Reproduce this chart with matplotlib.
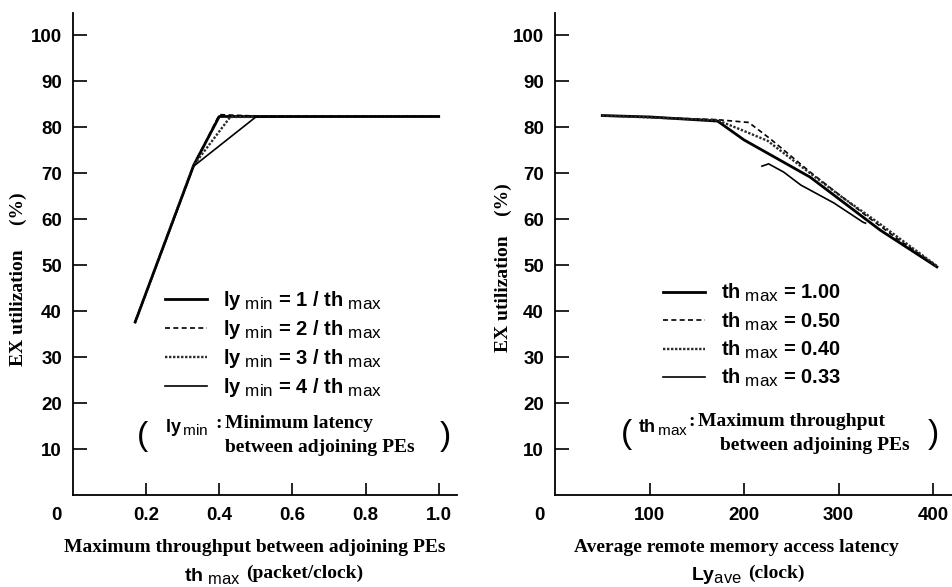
import matplotlib
matplotlib.use("Agg")
import matplotlib.pyplot as plt
import matplotlib._mathtext as _mt

# larger subscripts, as in the reference typesetting
_mt.SHRINK_FACTOR = 0.85

plt.rcParams['mathtext.fontset'] = 'custom'
plt.rcParams['mathtext.rm'] = 'Liberation Sans'
plt.rcParams['mathtext.bf'] = 'Liberation Sans:bold'
plt.rcParams['mathtext.it'] = 'Liberation Sans:italic'

# ---------------- data ----------------
# Left panel: EX utilization vs th_max
th_ly1 = [0.17, 0.33, 0.40, 1.00]
eu_ly1 = [37.6, 71.7, 82.3, 82.3]
th_ly2 = [0.17, 0.33, 0.40, 0.50, 1.00]
eu_ly2 = [37.6, 71.7, 82.7, 82.4, 82.4]
th_ly3 = [0.17, 0.33, 0.43, 1.00]
eu_ly3 = [37.6, 71.7, 82.2, 82.3]
th_ly4 = [0.17, 0.33, 0.50, 1.00]
eu_ly4 = [37.6, 71.5, 82.2, 82.3]
left_labels = [r"$\mathbf{ly}_{\ \mathrm{min}}$ = 1 / $\mathbf{th}_{\ \mathrm{max}}$",
               r"$\mathbf{ly}_{\ \mathrm{min}}$ = 2 / $\mathbf{th}_{\ \mathrm{max}}$",
               r"$\mathbf{ly}_{\ \mathrm{min}}$ = 3 / $\mathbf{th}_{\ \mathrm{max}}$",
               r"$\mathbf{ly}_{\ \mathrm{min}}$ = 4 / $\mathbf{th}_{\ \mathrm{max}}$"]

# Right panel: EX utilization vs Ly_ave
ly_th100 = [50, 100, 172, 200, 270, 344, 404]
eu_th100 = [82.5, 82.2, 81.3, 77.2, 69.1, 57.6, 49.6]
ly_th050 = [50, 172, 205, 228, 270, 330, 365, 404]
eu_th050 = [82.5, 81.6, 81.0, 77.4, 70.2, 60.6, 55.3, 49.8]
ly_th040 = [50, 172, 197, 225, 260, 300, 340, 404]
eu_th040 = [82.5, 81.5, 79.4, 77.0, 71.5, 65.3, 59.5, 49.8]
ly_th033 = [219, 226, 242, 260, 295, 326, 328.5]
eu_th033 = [71.5, 72.0, 70.2, 67.4, 63.5, 59.3, 59.1]
right_labels = [r"$\mathbf{th}_{\ \mathrm{max}}$ = 1.00",
                r"$\mathbf{th}_{\ \mathrm{max}}$ = 0.50",
                r"$\mathbf{th}_{\ \mathrm{max}}$ = 0.40",
                r"$\mathbf{th}_{\ \mathrm{max}}$ = 0.33"]

left_xticks = [0.2, 0.4, 0.6, 0.8, 1.0]
right_xticks = [100, 200, 300, 400]
yticks = [10, 20, 30, 40, 50, 60, 70, 80, 90, 100]

# ---------------- figure ----------------
W, H = 953, 587
fig = plt.figure(figsize=(W / 100, H / 100), dpi=100)

def fx(px):
    return px / W

def fy(py):
    return 1 - py / H

axL = fig.add_axes([fx(73), fy(495), fx(457) - fx(73), fy(13) - fy(495)])
axR = fig.add_axes([fx(555), fy(495), fx(952) - fx(555), fy(13) - fy(495)])

styles = [dict(color='black', lw=2.0, ls='-'),
          dict(color='black', lw=1.2, ls=(0, (3, 2))),
          dict(color='#2a2a2a', lw=1.7, ls=(0, (1, 0.7))),
          dict(color='black', lw=1.2, ls='-')]

left_series = [(th_ly1, eu_ly1), (th_ly2, eu_ly2), (th_ly3, eu_ly3), (th_ly4, eu_ly4)]
right_series = [(ly_th100, eu_th100), (ly_th050, eu_th050), (ly_th040, eu_th040), (ly_th033, eu_th033)]

for (x, y), st, lab in zip(left_series, styles, left_labels):
    axL.plot(x, y, label=lab, **st)
for (x, y), st, lab in zip(right_series, styles, right_labels):
    axR.plot(x, y, label=lab, **st)

tickfont = dict(family='Liberation Sans', weight='bold', size=13.5)
for ax, xt, xl in [(axL, left_xticks, (0, 1.05)), (axR, right_xticks, (0, 420))]:
    ax.set_xlim(*xl)
    ax.set_ylim(0, 104.8)
    ax.spines['top'].set_visible(False)
    ax.spines['right'].set_visible(False)
    ax.spines['left'].set_linewidth(1.3)
    ax.spines['bottom'].set_linewidth(1.3)
    ax.set_yticks(yticks)
    ax.set_yticklabels([str(v) for v in yticks], **tickfont)
    ax.set_xticks(xt)
    ax.set_xticklabels([f"{v:.1f}" if isinstance(v, float) else str(v) for v in xt], **tickfont)
    ax.tick_params(axis='y', direction='in', length=10, width=1.2, pad=8)
    ax.tick_params(axis='x', direction='in', length=9, width=1.2, pad=9)

legfont = {'family': 'Liberation Sans', 'weight': 'bold', 'size': 14.5}
for ax, anchor in [(axL, (fx(165), fy(289))), (axR, (fx(663), fy(282)))]:
    leg = ax.legend(loc='upper left', bbox_to_anchor=anchor, bbox_transform=fig.transFigure,
                    frameon=False, prop=legfont, handlelength=2.1, handletextpad=0.8,
                    labelspacing=0.3, borderpad=0, borderaxespad=0)

# origin "0" labels
fig.text(fx(56), fy(515), "0", ha='center', va='center', **tickfont)
fig.text(fx(539), fy(515), "0", ha='center', va='center', **tickfont)

serif = dict(family='Liberation Serif', weight='bold', size=14)
sansb = dict(family='Liberation Sans', weight='bold', size=14)
sansn = dict(family='Liberation Sans', weight='bold', size=13)

# y labels
fig.text(fx(18), fy(279), "EX utilization     (%)", rotation=90, ha='center', va='center', **serif)
fig.text(fx(503), fy(268), "EX utilization    (%)", rotation=90, ha='center', va='center', **serif)

# x labels
fig.text(fx(255), fy(547), "Maximum throughput between adjoining PEs", ha='center', va='center', **serif)
fig.text(fx(240), fy(576), r"$\mathbf{th}_{\ \mathrm{max}}$", ha='right', va='center', **sansb)
fig.text(fx(246), fy(573), "(packet/clock)", ha='left', va='center', **serif)

fig.text(fx(736), fy(547), "Average remote memory access latency", ha='center', va='center', **serif)
fig.text(fx(742), fy(576), r"$\mathbf{Ly}_{\mathrm{ave}}$", ha='right', va='center', **sansb)
fig.text(fx(748), fy(573), "(clock)", ha='left', va='center', **serif)

# notes
paren = dict(family='Liberation Sans', size=24)
fig.text(fx(143), fy(437), "(", ha='center', va='center', **paren)
fig.text(fx(445), fy(437), ")", ha='center', va='center', **paren)
fig.text(fx(165), fy(428), r"$\mathbf{ly}_{\,\mathrm{min}}$", ha='left', va='center', **sansn)
fig.text(fx(219), fy(423), ":", ha='center', va='center', **serif)
fig.text(fx(225), fy(423), "Minimum latency", ha='left', va='center', **serif)
fig.text(fx(225), fy(448), "between adjoining PEs", ha='left', va='center', **serif)

fig.text(fx(627), fy(434), "(", ha='center', va='center', **paren)
fig.text(fx(933), fy(434), ")", ha='center', va='center', **paren)
fig.text(fx(638), fy(427), r"$\mathbf{th}_{\,\mathrm{max}}$", ha='left', va='center', **sansn)
fig.text(fx(692), fy(422), ":", ha='center', va='center', **serif)
fig.text(fx(698), fy(422), "Maximum throughput", ha='left', va='center', **serif)
fig.text(fx(720), fy(446), "between adjoining PEs", ha='left', va='center', **serif)

fig.savefig("out.png", dpi=100)
